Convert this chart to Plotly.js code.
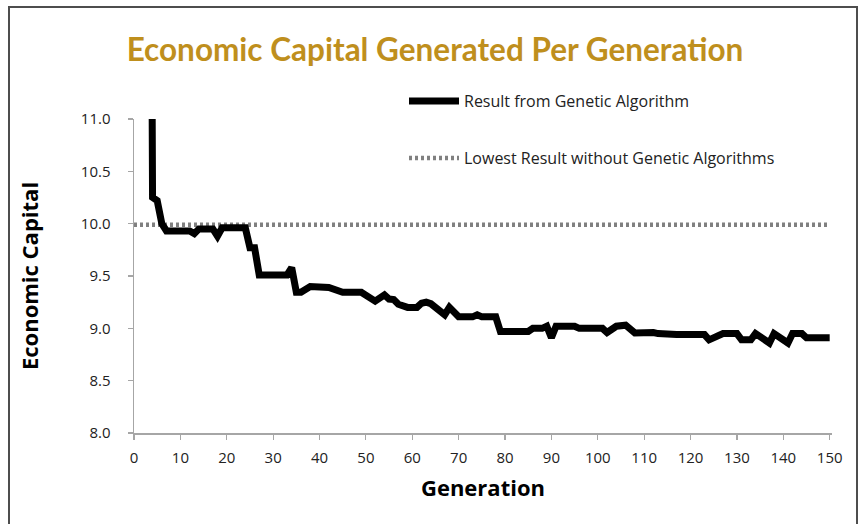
<!DOCTYPE html>
<html>
<head>
<meta charset="utf-8">
<script src="https://cdn.plot.ly/plotly-3.0.1.min.js"></script>
<style>
  html, body { margin: 0; padding: 0; background: #ffffff; }
  #chart { width: 862px; height: 524px; }
</style>
</head>
<body>
<div id="chart"></div>
<script>
// Generation numbers (x) and economic capital (y)
const generations = [3,4,5,6,7,12,13,14,17,18,19,24,25,26,27,33,34,35,36,38,42,45,49,51,52,54,55,56,57,59,61,62,63,64,65,67,68,70,73,74,75,78,79,85,86,88,89,90,91,95,96,101,102,104,106,108,112,113,117,123,124,127,130,131,133,134,135,137,138,139,141,142,144,145,150];
const gaCapital = [
  20.0,10.25,10.22,10.00,9.93,
  9.93,9.905,9.95,9.95,9.88,
  9.96,9.96,9.77,9.77,9.51,
  9.51,9.58,9.345,9.345,9.40,
  9.39,9.345,9.345,9.30,9.26,
  9.32,9.28,9.275,9.23,9.20,
  9.20,9.24,9.25,9.235,9.20,
  9.13,9.20,9.11,9.11,9.13,
  9.11,9.11,8.97,8.97,9.00,
  9.00,9.02,8.91,9.02,9.02,
  9.00,9.00,8.96,9.02,9.03,
  8.955,8.96,8.95,8.94,8.94,
  8.89,8.95,8.95,8.89,8.89,
  8.95,8.92,8.86,8.95,8.92,
  8.86,8.95,8.95,8.91,8.91
];
const baselineGenerations = [0, 150];
const baselineCapital = [9.99, 9.99];

const seriesNames = ["Result from Genetic Algorithm", "Lowest Result without Genetic Algorithms"];
const xTickValues = [0,10,20,30,40,50,60,70,80,90,100,110,120,130,140,150];
const yTickValues = [8.0, 8.5, 9.0, 9.5, 10.0, 10.5, 11.0];
const yTickLabels = ["8.0","8.5","9.0","9.5","10.0","10.5","11.0"];

const chartTitle = "Economic Capital Generated Per Generation";
const xTitle = "Generation";
const yTitle = "Economic Capital";

const axisGray = "#a6a6a6";
const textFont = "Open Sans, Liberation Sans, sans-serif";

const traces = [
  {
    x: baselineGenerations, y: baselineCapital,
    type: "scatter", mode: "lines",
    name: seriesNames[1],
    legend: "legend2",
    line: { color: "#808080", width: 4.5, dash: "3px,3px" },
    hoverinfo: "skip"
  },
  {
    x: generations, y: gaCapital,
    type: "scatter", mode: "lines",
    name: seriesNames[0],
    legend: "legend",
    line: { color: "#000000", width: 7 },
    hoverinfo: "skip"
  }
];

const L = 134, R = 30, T = 119, B = 91;
const plotW = 862 - L - R, plotH = 524 - T - B;
function px2paperX(px) { return (px - L) / plotW; }
function py2paperY(py) { return (524 - B - py) / plotH; }

const layout = {
  width: 862, height: 524,
  margin: { l: L, r: R, t: T, b: B },
  paper_bgcolor: "#ffffff",
  plot_bgcolor: "#ffffff",
  title: {
    text: chartTitle,
    font: { family: "Lato, sans-serif", size: 31.5, color: "#bf8f1d", weight: "bold" },
    xref: "container", yref: "container",
    x: 435 / 862, xanchor: "center",
    y: 1 - 50 / 524, yanchor: "middle"
  },
  xaxis: {
    range: [0, 150.5],
    tickvals: xTickValues,
    ticks: "outside", ticklen: 5, tickcolor: axisGray, tickwidth: 1.2,
    showline: true, linecolor: axisGray, linewidth: 1.5,
    showgrid: false, zeroline: false,
    tickfont: { family: textFont, size: 15, color: "#222222" },
    ticklabelstandoff: 5,
    title: { text: xTitle, font: { family: textFont, size: 22, color: "#000000", weight: "bold" }, standoff: 15 },
    fixedrange: true
  },
  yaxis: {
    range: [8, 11],
    tickvals: yTickValues, ticktext: yTickLabels,
    ticks: "outside", ticklen: 5, tickcolor: axisGray, tickwidth: 1.2,
    showline: true, linecolor: axisGray, linewidth: 1.5,
    showgrid: false, zeroline: false,
    tickfont: { family: textFont, size: 15, color: "#222222" },
    ticklabelstandoff: 14,
    title: { text: yTitle, font: { family: textFont, size: 22, color: "#000000", weight: "bold" }, standoff: 36 },
    fixedrange: true
  },
  showlegend: true,
  legend: {
    x: px2paperX(404), xanchor: "left",
    y: py2paperY(101), yanchor: "middle",
    bgcolor: "rgba(0,0,0,0)",
    itemwidth: 50,
    font: { family: textFont, size: 16, color: "#222222" }
  },
  legend2: {
    x: px2paperX(404), xanchor: "left",
    y: py2paperY(158), yanchor: "middle",
    bgcolor: "rgba(0,0,0,0)",
    itemwidth: 50,
    font: { family: textFont, size: 16, color: "#222222" }
  },
  shapes: [
    {
      type: "rect", xref: "paper", yref: "paper",
      x0: px2paperX(9), x1: px2paperX(857),
      y0: py2paperY(540), y1: py2paperY(7),
      line: { color: "#4d4d4d", width: 2 },
      fillcolor: "rgba(0,0,0,0)",
      layer: "below"
    }
  ]
};

Plotly.newPlot("chart", traces, layout, { displayModeBar: false, staticPlot: true });
</script>
</body>
</html>
